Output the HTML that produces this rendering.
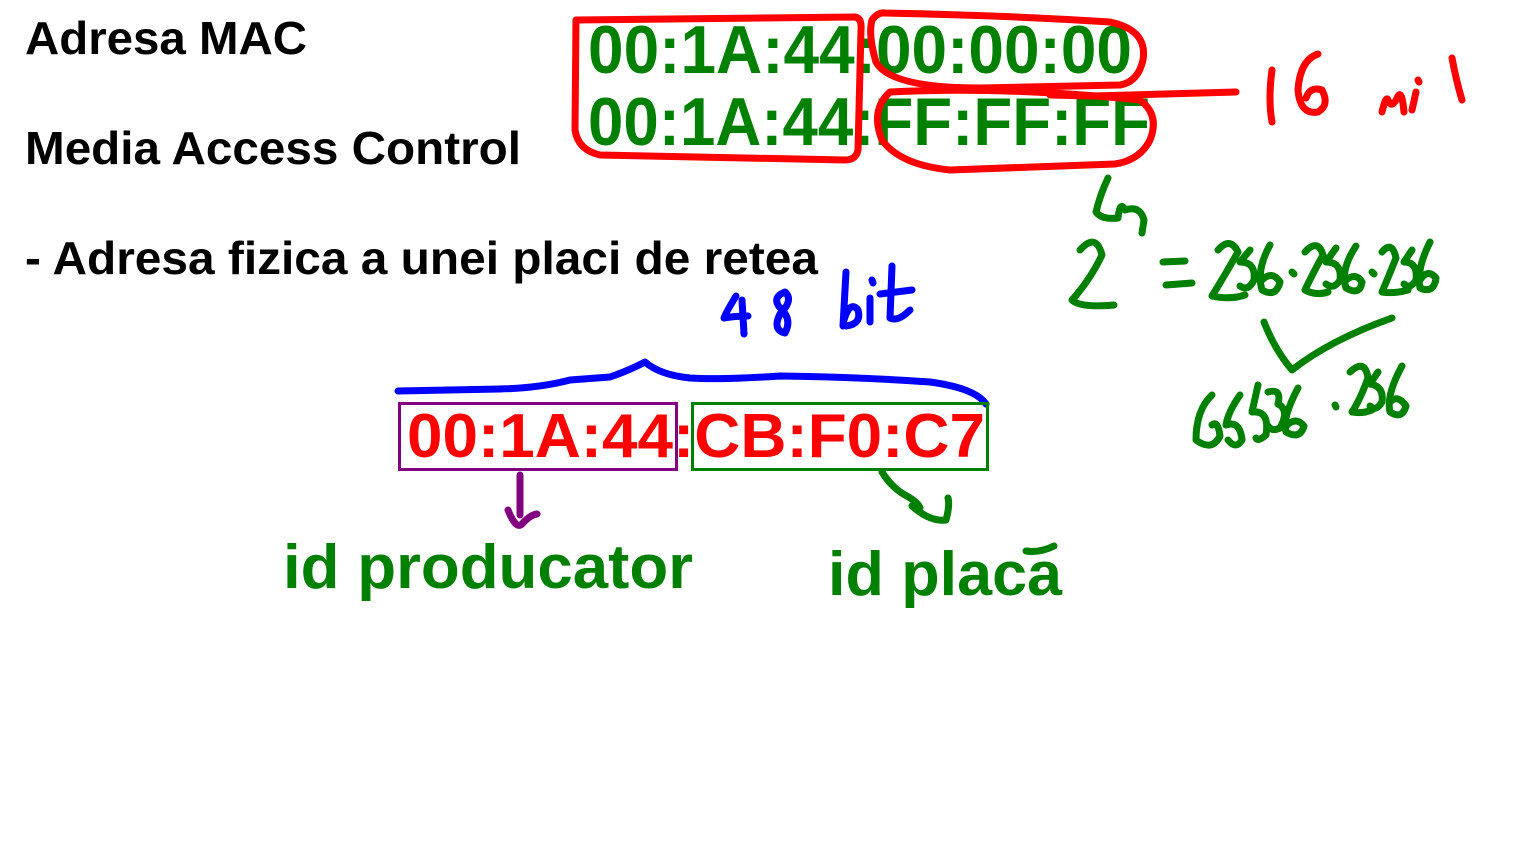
<!DOCTYPE html>
<html><head><meta charset="utf-8"><style>
html,body{margin:0;padding:0;background:#fff;}
svg{display:block;}
text{font-family:"Liberation Sans",sans-serif;font-weight:bold;}
</style></head><body>
<svg width="1530" height="858" viewBox="0 0 1530 858" xmlns="http://www.w3.org/2000/svg">
<rect width="1530" height="858" fill="#fff"/>
<text x="25" y="54" font-size="46" fill="#000" textLength="282" lengthAdjust="spacingAndGlyphs">Adresa MAC</text>
<text x="25" y="164" font-size="46" fill="#000" textLength="496" lengthAdjust="spacingAndGlyphs">Media Access Control</text>
<text x="25" y="274" font-size="46" fill="#000" textLength="793" lengthAdjust="spacingAndGlyphs">- Adresa fizica a unei placi de retea</text>

<text x="588" y="73" font-size="68" fill="#008000" textLength="544" lengthAdjust="spacingAndGlyphs">00:1A:44:00:00:00</text>
<text x="588" y="145" font-size="68" fill="#008000" textLength="562" lengthAdjust="spacingAndGlyphs">00:1A:44:FF:FF:FF</text>

<g fill="none" stroke="#ff0000" stroke-width="7" stroke-linecap="round" stroke-linejoin="round">
<path d="M576 20 L855 17 Q862 18 861 30 L858 150 Q856 160 845 160 L600 155 Q578 150 575 130 Z"/>
<path d="M885 13 Q1000 15 1110 22 Q1148 30 1143 60 Q1138 82 1120 85 L980 88 Q890 88 876 62 Q868 35 872 20 Q878 12 885 13 Z"/>
<path d="M890 92 Q1000 86 1140 100 Q1160 115 1150 140 Q1140 160 1115 164 L950 170 Q900 165 882 140 Q870 110 890 92 Z"/>
<path d="M1050 95 L1093 96 L1236 92"/>
<path d="M1272 70 Q1268 100 1272 122"/>
<path d="M1318 54 Q1300 60 1298 90 Q1300 115 1318 112 Q1330 105 1322 90 Q1310 86 1306 98"/>
<path d="M1382 112 Q1386 95 1388 100 Q1392 110 1398 96 Q1402 90 1404 112 M1412 110 L1416 92 M1418 80 L1419 82 M1452 58 Q1456 80 1462 100"/>
</g>

<g fill="none" stroke="#008000" stroke-width="7" stroke-linecap="round" stroke-linejoin="round">
<path d="M1108 178 Q1100 195 1096 212 Q1102 220 1118 218 Q1120 200 1125 210 Q1140 205 1144 220 L1142 233"/>
<path d="M1080 250 Q1096 232 1102 255 Q1090 280 1072 300 Q1080 308 1114 305"/>
<path d="M1163 262 L1185 261 M1166 285 L1192 283"/>
<path d="M1218 250 Q1230 236 1238 252 Q1225 275 1212 296 Q1230 300 1245 295"/>
<path d="M1250 250 L1240 262 Q1256 262 1254 280 Q1248 292 1240 286"/>
<path d="M1270 245 Q1256 270 1262 290 Q1276 298 1280 282 Q1272 270 1262 280"/>
<path d="M1292 272 L1294 274"/>
<path d="M1305 252 Q1318 238 1323 255 Q1312 275 1305 290 Q1316 296 1328 292"/>
<path d="M1336 248 L1326 262 Q1342 262 1340 280 Q1334 290 1326 284"/>
<path d="M1356 246 Q1340 270 1346 288 Q1360 296 1362 282 Q1356 272 1346 280"/>
<path d="M1372 272 L1374 274"/>
<path d="M1382 252 Q1392 240 1396 258 Q1388 278 1382 292 Q1394 294 1408 290"/>
<path d="M1412 250 L1404 262 Q1418 262 1416 280 Q1410 290 1404 284"/>
<path d="M1430 242 Q1416 270 1420 288 Q1434 294 1436 278 Q1428 268 1420 280"/>
<path d="M1264 322 Q1275 350 1292 370 Q1330 340 1392 318"/>
<path d="M1212 395 Q1196 410 1196 440 Q1212 452 1220 436 Q1218 420 1212 425 M1240 395 Q1228 412 1226 425 Q1240 420 1242 440 Q1236 450 1228 440 M1258 385 L1252 412 Q1270 410 1266 435 Q1258 442 1256 438"/>
<path d="M1268 392 Q1282 388 1278 404 Q1290 410 1280 428 Q1272 432 1268 426"/>
<path d="M1298 388 Q1282 418 1286 432 Q1300 440 1304 426 Q1296 416 1286 426"/>
<path d="M1335 405 L1336 407"/>
<path d="M1350 372 Q1365 358 1368 378 Q1360 400 1352 412 Q1362 414 1372 410"/>
<path d="M1378 372 L1370 384 Q1384 386 1382 402 Q1376 412 1370 406"/>
<path d="M1402 366 Q1386 395 1390 412 Q1402 420 1406 406 Q1398 394 1390 402"/>
</g>

<g fill="none" stroke="#0000ff" stroke-width="7" stroke-linecap="round" stroke-linejoin="round">
<path d="M398 391 L500 389 Q540 388 570 380 L610 377 Q630 370 645 362 Q660 375 690 378 Q720 380 780 376 Q860 377 930 382 Q975 388 986 404"/>
<path d="M736 296 Q724 316 724 318 Q735 316 748 316 M742 300 L744 334"/>
<path d="M785 292 Q770 298 782 310 Q792 320 785 333 Q772 330 780 314 Q794 300 785 292"/>
<path d="M846 272 L843 326 M844 320 Q850 300 858 310 Q862 324 846 326 M870 298 L870 322 M872 280 L873 283 M892 266 L890 318 Q898 322 910 310 M880 294 L912 290"/>
</g>

<rect x="399.5" y="403.5" width="277" height="66" fill="none" stroke="#800080" stroke-width="3"/>
<rect x="692.5" y="403.5" width="295" height="66" fill="none" stroke="#008000" stroke-width="3"/>
<text x="407" y="457" font-size="62" fill="#ff0000" textLength="578" lengthAdjust="spacingAndGlyphs">00:1A:44:CB:F0:C7</text>

<path d="M520 475 L520 515 M508 510 Q516 530 522 524 Q530 515 537 514" fill="none" stroke="#800080" stroke-width="7" stroke-linecap="round"/>
<path d="M882 472 Q892 488 905 495 Q918 502 920 508 M912 506 Q930 522 946 520 Q950 505 948 498" fill="none" stroke="#008000" stroke-width="7" stroke-linecap="round" stroke-linejoin="round"/>

<text x="283" y="588" font-size="62" fill="#008000" textLength="410" lengthAdjust="spacingAndGlyphs">id producator</text>
<text x="828" y="595" font-size="62" fill="#008000" textLength="234" lengthAdjust="spacingAndGlyphs">id placa</text>
<path d="M1026 551 Q1040 553 1054 546" fill="none" stroke="#008000" stroke-width="7" stroke-linecap="round"/>
</svg>
</body></html>
